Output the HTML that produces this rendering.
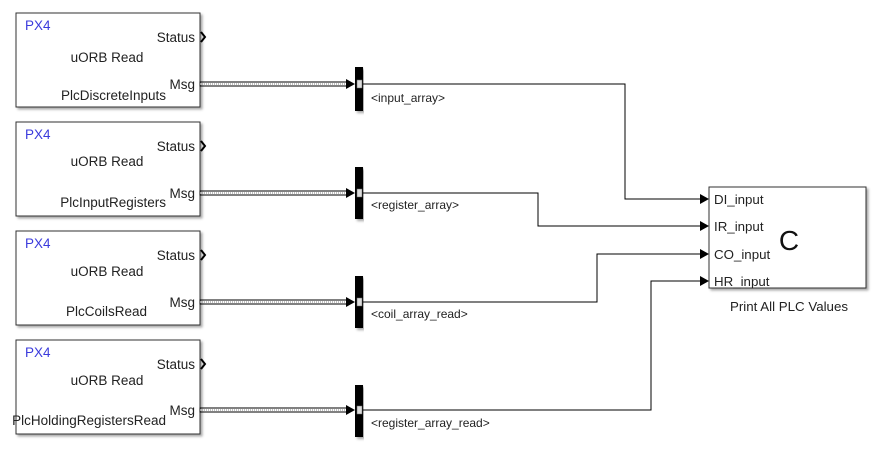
<!DOCTYPE html>
<html><head><meta charset="utf-8"><style>
html,body{margin:0;padding:0;background:#fff;}
svg{display:block;font-family:"Liberation Sans",sans-serif;}
</style></head><body>
<svg width="889" height="454" viewBox="0 0 889 454" xmlns="http://www.w3.org/2000/svg">
<defs>
<filter id="sh" x="-5%" y="-5%" width="115%" height="115%"><feDropShadow dx="2" dy="2" stdDeviation="1.2" flood-color="#000" flood-opacity="0.35"/></filter>
</defs>
<g font-size="13.5" fill="#222">
<rect x="16" y="13" width="184" height="94" fill="#fff" stroke="#333" stroke-width="1" filter="url(#sh)"/>
<text x="25" y="30" fill="#3b3bdc">PX4</text>
<text x="195" y="42" text-anchor="end">Status</text>
<text x="107" y="62" text-anchor="middle">uORB Read</text>
<text x="195" y="89" text-anchor="end">Msg</text>
<text x="166" y="100" text-anchor="end">PlcDiscreteInputs</text>

<rect x="16" y="122" width="184" height="94" fill="#fff" stroke="#333" filter="url(#sh)"/>
<text x="25" y="139" fill="#3b3bdc">PX4</text>
<text x="195" y="151" text-anchor="end">Status</text>
<text x="107" y="166" text-anchor="middle">uORB Read</text>
<text x="195" y="198" text-anchor="end">Msg</text>
<text x="166" y="207" text-anchor="end">PlcInputRegisters</text>

<rect x="16" y="231" width="184" height="94" fill="#fff" stroke="#333" filter="url(#sh)"/>
<text x="25" y="248" fill="#3b3bdc">PX4</text>
<text x="195" y="260" text-anchor="end">Status</text>
<text x="107" y="276" text-anchor="middle">uORB Read</text>
<text x="195" y="307" text-anchor="end">Msg</text>
<text x="147" y="316" text-anchor="end">PlcCoilsRead</text>

<rect x="16" y="340" width="184" height="94" fill="#fff" stroke="#333" filter="url(#sh)"/>
<text x="25" y="357" fill="#3b3bdc">PX4</text>
<text x="195" y="369" text-anchor="end">Status</text>
<text x="107" y="385" text-anchor="middle">uORB Read</text>
<text x="195" y="415" text-anchor="end">Msg</text>
<text x="166" y="425" text-anchor="end">PlcHoldingRegistersRead</text>
</g>
<g fill="none" stroke="#000" stroke-width="2">
<path d="M201 32 L205 37 L201 42"/>
<path d="M201 141 L205 146 L201 151"/>
<path d="M201 250 L205 255 L201 260"/>
<path d="M201 359 L205 364 L201 369"/>
</g>
<g>
<rect x="200" y="82" width="148" height="4" fill="none" stroke="#000" stroke-width="1"/>
<line x1="200" y1="84" x2="348" y2="84" stroke="#aaa" stroke-width="1.5" stroke-dasharray="1,1"/>
<path d="M346 79 L355 84 L346 89Z"/>
<rect x="200" y="191" width="148" height="4" fill="none" stroke="#000"/>
<line x1="200" y1="193" x2="348" y2="193" stroke="#aaa" stroke-width="1.5" stroke-dasharray="1,1"/>
<path d="M346 188 L355 193 L346 198Z"/>
<rect x="200" y="300" width="148" height="4" fill="none" stroke="#000"/>
<line x1="200" y1="302" x2="348" y2="302" stroke="#aaa" stroke-width="1.5" stroke-dasharray="1,1"/>
<path d="M346 297 L355 302 L346 307Z"/>
<rect x="200" y="408" width="148" height="4" fill="none" stroke="#000"/>
<line x1="200" y1="410" x2="348" y2="410" stroke="#aaa" stroke-width="1.5" stroke-dasharray="1,1"/>
<path d="M346 405 L355 410 L346 415Z"/>
</g>
<g fill="#000" filter="url(#sh)">
<rect x="355" y="67" width="8" height="44"/>
<rect x="355" y="167" width="8" height="52"/>
<rect x="355" y="276" width="8" height="52"/>
<rect x="355" y="385" width="8" height="52"/>
</g>
<g fill="#ddd" stroke="#666" stroke-width="0.5">
<rect x="357" y="80" width="5" height="8"/>
<rect x="357" y="189" width="5" height="8"/>
<rect x="357" y="298" width="5" height="8"/>
<rect x="357" y="406" width="5" height="8"/>
</g>
<g fill="none" stroke="#000" stroke-width="1">
<polyline points="363,84 625,84 625,199 702,199"/>
<polyline points="363,193 538,193 538,226 702,226"/>
<polyline points="363,302 597,302 597,254 702,254"/>
<polyline points="363,410 651,410 651,281 702,281"/>
</g>
<g fill="#000">
<path d="M700 194 L709 199 L700 204Z"/>
<path d="M700 221 L709 226 L700 231Z"/>
<path d="M700 249 L709 254 L700 259Z"/>
<path d="M700 276 L709 281 L700 286Z"/>
</g>
<g font-size="12" fill="#222">
<text x="371" y="102">&lt;input_array&gt;</text>
<text x="371" y="209">&lt;register_array&gt;</text>
<text x="371" y="318">&lt;coil_array_read&gt;</text>
<text x="371" y="427">&lt;register_array_read&gt;</text>
</g>
<rect x="709" y="187" width="157" height="101" fill="#fff" stroke="#333" filter="url(#sh)"/>
<g font-size="13.3" fill="#222">
<text x="714" y="204">DI_input</text>
<text x="714" y="231">IR_input</text>
<text x="714" y="259">CO_input</text>
<text x="714" y="286">HR_input</text>
<text x="789" y="311" text-anchor="middle">Print All PLC Values</text>
</g>
<text x="789" y="250" font-size="28" text-anchor="middle" fill="#111">C</text>
</svg>
</body></html>
